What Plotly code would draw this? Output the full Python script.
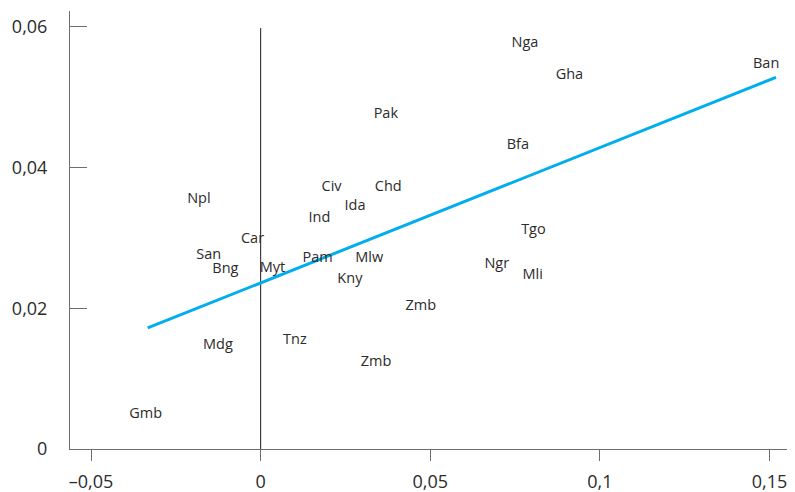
import plotly.graph_objects as go

countries = ["Npl", "Civ", "Chd", "Ida", "Ind", "Car", "San", "Bng", "Myt", "Pam",
             "Mlw", "Kny", "Mdg", "Tnz", "Zmb", "Nga", "Ban", "Gha", "Pak", "Bfa",
             "Tgo", "Ngr", "Mli", "Zmb", "Gmb"]
x_vals = [-0.0182, 0.0209, 0.0376, 0.0278, 0.0173, -0.0024, -0.0153, -0.0104, 0.0035, 0.0168,
          0.0320, 0.0263, -0.0126, 0.0101, 0.0340, 0.0779, 0.1490, 0.0910, 0.0369, 0.0758,
          0.0804, 0.0696, 0.0802, 0.0472, -0.0339]
y_vals = [0.0354, 0.0372, 0.0372, 0.0345, 0.0328, 0.0298, 0.0275, 0.0255, 0.0256, 0.0271,
          0.0271, 0.0241, 0.0147, 0.0155, 0.0123, 0.0576, 0.0547, 0.0531, 0.0476, 0.0432,
          0.0311, 0.0263, 0.0246, 0.0203, 0.0049]

fit_x = [-0.0333, 0.1519]
fit_y = [0.0172, 0.0528]

zero_x = [0, 0]
zero_y = [0, 0.0598]

x_ticks = [-0.05, 0, 0.05, 0.1, 0.15]
x_ticktext = ["\u20130,05", "0", "0,05", "0,1", "0,15"]
y_ticks = [0, 0.02, 0.04, 0.06]
y_ticktext = ["0", "0,02", "0,04", "0,06"]

FONT = "Open Sans, Lato, sans-serif"

fig = go.Figure()
fig.add_trace(go.Scatter(x=zero_x, y=zero_y, mode="lines",
                         line=dict(color="#1a1a1a", width=1), hoverinfo="skip"))
fig.add_trace(go.Scatter(x=fit_x, y=fit_y, mode="lines",
                         line=dict(color="#00AEEF", width=3)))
fig.add_trace(go.Scatter(x=x_vals, y=y_vals, mode="text", text=countries,
                         textposition="middle center",
                         textfont=dict(family=FONT, size=14.5, color="#2b2b2b")))

# the page body adds an 8px offset, so the figure is sized to fill the rest
fig.update_layout(
    width=787, height=484,
    margin=dict(l=62, r=0, t=3, b=43),
    paper_bgcolor="white", plot_bgcolor="white",
    showlegend=False,
    font=dict(family=FONT, size=18, color="#2b2b2b"),
)
fig.update_xaxes(range=[-0.0562, 0.1575], showgrid=False, zeroline=False,
                 showline=True, linecolor="#6e6e6e", linewidth=1,
                 ticks="outside", ticklen=11, tickcolor="#6e6e6e", tickwidth=1,
                 tickvals=x_ticks, ticktext=x_ticktext, ticklabelstandoff=5,
                 automargin=False)
fig.update_yaxes(range=[0, 0.06223], showgrid=False, zeroline=False,
                 showline=True, linecolor="#6e6e6e", linewidth=1,
                 ticks="inside", ticklen=17, tickcolor="#6e6e6e", tickwidth=1,
                 tickvals=y_ticks, ticktext=y_ticktext, ticklabelstandoff=18,
                 automargin=False)

fig.write_html("out.html")
